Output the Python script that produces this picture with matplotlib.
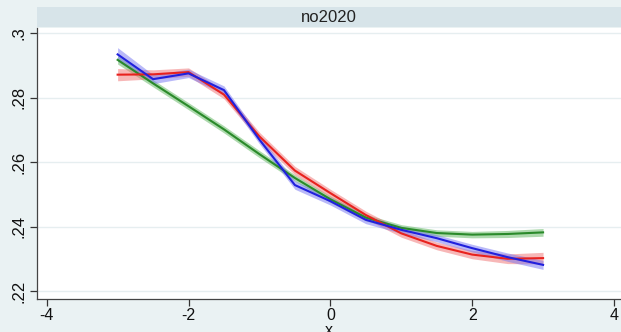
import numpy as np
import matplotlib
matplotlib.use("Agg")
import matplotlib.pyplot as plt
from matplotlib.patches import Rectangle

plt.rcParams['font.family'] = ['Liberation Sans', 'DejaVu Sans']

# Evaluation grid and fitted values with confidence half-widths
x = [-3.0, -2.5, -2.0, -1.5, -1.0, -0.5, 0.0, 0.5, 1.0, 1.5, 2.0, 2.5, 3.0]

blue_y = [0.2935, 0.2858, 0.2876, 0.2824, 0.2670, 0.2529, 0.2479, 0.2421,
          0.2390, 0.2364, 0.2333, 0.2305, 0.2281]
blue_hw = [0.0021, 0.0014, 0.0013, 0.0013, 0.0013, 0.0013, 0.0012, 0.0012,
           0.0011, 0.0011, 0.0012, 0.0013, 0.0014]

red_y = [0.2872, 0.2873, 0.2880, 0.2810, 0.2680, 0.2574, 0.2504, 0.2436,
         0.2379, 0.2340, 0.2313, 0.2300, 0.2302]
red_hw = [0.0019, 0.0014, 0.0013, 0.0013, 0.0013, 0.0013, 0.0012, 0.0012,
          0.0012, 0.0012, 0.0013, 0.0015, 0.0018]

green_y = [0.2918, 0.2845, 0.2774, 0.2702, 0.2625, 0.2551, 0.2485, 0.2428,
           0.2396, 0.2380, 0.2375, 0.2377, 0.2382]
green_hw = [0.0013, 0.0011, 0.0011, 0.0011, 0.0011, 0.0010, 0.0010, 0.0010,
            0.0010, 0.0010, 0.0010, 0.0011, 0.0012]

xticks = [-4, -2, 0, 2, 4]
xtick_labels = ["-4", "-2", "0", "2", "4"]
yticks = [0.22, 0.24, 0.26, 0.28, 0.30]
ytick_labels = [".22", ".24", ".26", ".28", ".3"]
panel_title = "no2020"

W, H = 621, 332
bg = "#eaf2f3"
band_col = "#d7e4e9"

fig = plt.figure(figsize=(W / 100, H / 100), dpi=100, facecolor=bg)
ax = fig.add_axes([36.5 / W, (H - 299) / H, 1 - 36.5 / W, (299 - 28) / H])
ax.set_facecolor("white")

series = [
    (green_y, green_hw, "#2a8a2a", "#5cb45c"),
    (red_y, red_hw, "#e8221e", "#f07070"),
    (blue_y, blue_hw, "#2020dd", "#7474f2"),
]
xa = np.array(x)
for yv, hw, lc, fc in series:
    yv = np.array(yv)
    hw = np.array(hw)
    ax.fill_between(xa, yv - hw, yv + hw, color=fc, alpha=0.5, lw=0, zorder=2)
for yv, hw, lc, fc in series:
    ax.plot(xa, yv, color=lc, lw=1.5, zorder=3, solid_joinstyle="round")

ax.set_xlim(-4.144, 4.099)
ax.set_ylim(0.2175, 0.3017)

ax.set_yticks(yticks)
ax.set_yticklabels(ytick_labels, rotation=90, va="center", fontsize=12)
ax.set_xticks(xticks)
ax.set_xticklabels(xtick_labels, fontsize=11.5)
ax.tick_params(axis="both", direction="out", length=5, width=0.9,
               color="#333333", labelcolor="#111111")
ax.tick_params(axis="x", pad=1.5)
ax.tick_params(axis="y", pad=2)
ax.yaxis.grid(True, color="#e6eef0", lw=1.0, zorder=0)
ax.xaxis.grid(False)
ax.set_axisbelow(True)

for s in ["top", "right"]:
    ax.spines[s].set_visible(False)
for s in ["left", "bottom"]:
    ax.spines[s].set_color("#444444")
    ax.spines[s].set_linewidth(0.9)

ax.set_xlabel("x", fontsize=11.5, labelpad=0, color="#111111")

# Panel title strip
fig.patches.append(Rectangle((36.5 / W, (H - 27) / H), 1 - 36.5 / W, 20 / H,
                             transform=fig.transFigure, facecolor=band_col,
                             edgecolor="none", zorder=5))
fig.text((36.5 + W) / 2 / W, (H - 17) / H, panel_title, ha="center",
         va="center", fontsize=12, color="#222222", zorder=6)

fig.savefig("out.png", dpi=100, facecolor=bg)
